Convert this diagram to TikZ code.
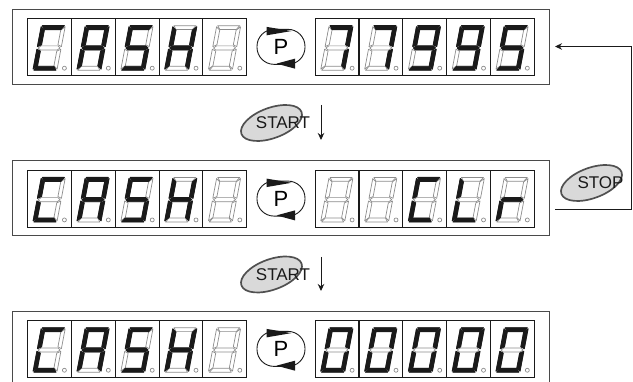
\documentclass[tikz,border=0pt]{standalone}
\usepackage{xcolor}
\usepackage{fontspec}
\setmainfont{Liberation Sans}
\usetikzlibrary{arrows.meta,shapes.geometric}
\definecolor{Ink}{HTML}{1A1A1A}
\definecolor{Frame}{HTML}{4A4A4A}
\definecolor{Off}{HTML}{8C8C8C}
\definecolor{Shell}{HTML}{D9D9D9}
\definecolor{Rim}{HTML}{505050}
\tikzset{
  panelbox/.style={draw=Frame,line width=1pt},
  cellbox/.style={draw=Ink,line width=.9pt,rectangle,inner sep=0pt,minimum width=43.87pt,minimum height=57pt},
  segoff/.style={draw=Off,line width=.7pt,line join=round,fill=white},
  segon/.style={draw=Ink,line width=.9pt,line join=round,fill=Ink},
  seg/.style={seg #1},
  seg x/.style={},
  seg a/.style={insert path={(1,44.5)--(23,44.5)--(20.2,40.6)--(3.8,40.6)--cycle}},
  seg b/.style={insert path={(24,43.4)--(24,23.6)--(20.2,25.4)--(20.2,40)--cycle}},
  seg c/.style={insert path={(24,20.9)--(24,1.1)--(20.2,4.5)--(20.2,19.1)--cycle}},
  seg d/.style={insert path={(1,0)--(23,0)--(20.2,3.9)--(3.8,3.9)--cycle}},
  seg e/.style={insert path={(0,20.9)--(0,1.1)--(3.8,4.5)--(3.8,19.1)--cycle}},
  seg f/.style={insert path={(0,43.4)--(0,23.6)--(3.8,25.4)--(3.8,40)--cycle}},
  seg g/.style={insert path={(1,22.25)--(3.6,24.3)--(20.4,24.3)--(23,22.25)--(20.4,20.2)--(3.6,20.2)--cycle}},
  pbtn/.style={draw=Ink,line width=.9pt,rectangle,rounded corners=17pt,minimum width=48pt,minimum height=35pt,inner sep=0pt,font=\fontsize{22}{24}\selectfont},
  btnshell/.style={draw=Rim,line width=1.7pt,fill=Shell,ellipse,rotate=20,minimum width=64pt,minimum height=30.4pt,inner sep=0pt},
  btntext/.style={inner sep=0pt,text=Ink,font=\fontsize{17}{20}\selectfont},
  flow/.style={draw=Ink,line width=1pt,-{Stealth[length=7pt,width=6.5pt]}}
}
\newcommand{\sevenseg}[2]{%
  \begin{scope}[shift={(#1.south west)},shift={(6,6)},xslant=.19]
    \foreach \s in {a,...,g} {\path[segoff,seg/.expanded=\s];}
    \foreach \s in #2 {\path[segon,seg/.expanded=\s];}
  \end{scope}
  \draw[Off,line width=.7pt] (#1.south west) ++(37.5,8) circle (2);
}
\begin{document}
\begin{tikzpicture}[x=1pt,y=1pt]
  \useasboundingbox (0,0) rectangle (633,382);
  \draw[panelbox] (12.5,297) rectangle (549,372.5);
  \draw[panelbox] (12.5,146) rectangle (549,221.3);
  \draw[panelbox] (12.5,0)--(12.5,70)--(549,70)--(549,0);
  \foreach \k/\yc/\ra/\rb/\rc/\rd/\re in {1/334.75/{a,b,c}/{a,b,c}/{a,b,c,d,f,g}/{a,b,c,d,f,g}/{a,c,d,f,g},
      2/183/{x}/{x}/{a,d,e,f}/{d,e,f}/{e,g},
      3/32.7/{a,b,c,d,e,f}/{a,b,c,d,e,f}/{a,b,c,d,e,f}/{a,b,c,d,e,f}/{a,b,c,d,e,f}}{
    \foreach \n/\x/\on in {1/49.3/{a,d,e,f},2/93.2/{a,b,c,e,f,g},3/137.1/{a,c,d,f,g},4/180.9/{b,c,e,f,g},5/224.7/{x},
        6/337/\ra,7/380.9/\rb,8/424.6/\rc,9/468.4/\rd,10/512.2/\re}{
      \edef\onlist{\on}
      \node[cellbox] (cell\k-\n) at (\x,\yc) {};
      \sevenseg{cell\k-\n}{\onlist}
    }
    \node[pbtn] (p\k) at (281,\yc+0.4) {P};
    \fill[Ink,shift={(p\k.center)}] (-14.5,20)--(10.5,15.8)--(-14.5,11.5)--cycle;
    \fill[Ink,shift={(p\k.center)}] (14,-11.8)--(-4.5,-16.8)--(14,-21.8)--cycle;
  }
  \node[btnshell] (start1) at (271.5,259) {};
  \node[btntext] (startlab1) at (283,259) {START};
  \node[btnshell] (start2) at (271.5,107.5) {};
  \node[btntext] (startlab2) at (283,107.5) {START};
  \node[btnshell] (stop) at (591.5,199) {};
  \node[btntext] (stoplab) at (600.5,199) {STOP};
  \coordinate (down1a) at (321,277);
  \coordinate (down1b) at (321,242);
  \coordinate (down2a) at (321,125);
  \coordinate (down2b) at (321,91);
  \coordinate (backa) at (555,172);
  \coordinate (backb) at (631,172);
  \coordinate (backc) at (631,335.5);
  \coordinate (backd) at (555,335.5);
  \draw[flow] (down1a)--(down1b);
  \draw[flow] (down2a)--(down2b);
  \draw[flow] (backa)--(backb)--(backc)--(backd);
\end{tikzpicture}
\end{document}
